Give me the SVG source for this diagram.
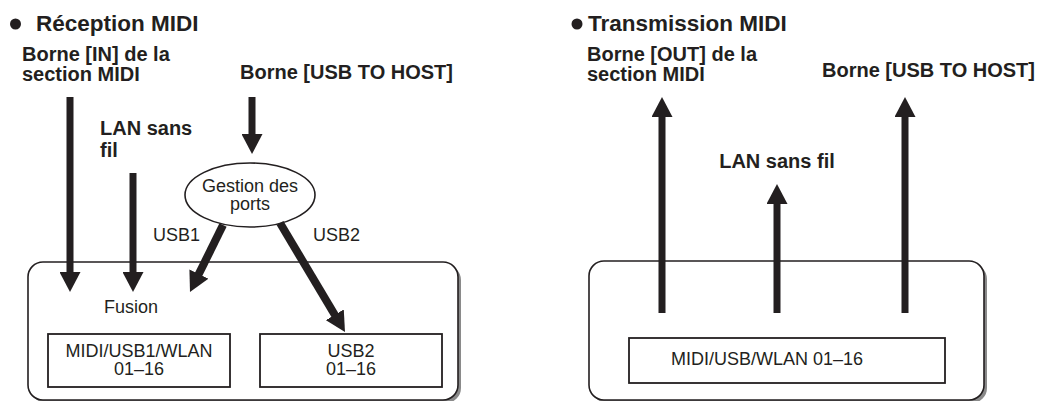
<svg xmlns="http://www.w3.org/2000/svg" width="1060" height="401" viewBox="0 0 1060 401">
  <style>
    .title { font-family: "Liberation Sans", Arial, sans-serif; font-weight: bold; font-size: 22.5px; fill: #231f20; }
    .lbl { font-family: "Liberation Sans", Arial, sans-serif; font-weight: bold; font-size: 20px; fill: #231f20; }
    .txt { font-family: "Liberation Sans", Arial, sans-serif; font-size: 18px; fill: #231f20; }
    .frame { fill: #ffffff; stroke: #231f20; stroke-width: 1.6; }
    .shadow { fill: #8a8a8a; stroke: none; }
    .box { fill: #ffffff; stroke: #231f20; stroke-width: 1.8; }
    .arrow { stroke: #231f20; stroke-width: 7; fill: none; marker-end: url(#head); }
    .arrow.diag { stroke-width: 8; }
  </style>
  <defs>
    <marker id="head" viewBox="0 0 20 21" markerWidth="20" markerHeight="21" refX="2" refY="10.5" markerUnits="userSpaceOnUse" orient="auto">
      <path d="M0,0 L20,10.5 L0,21 z" fill="#231f20"/>
    </marker>
  </defs>

  <!-- Left: Réception MIDI -->
  <g id="title-reception">
    <circle cx="15.5" cy="24" r="5.5" fill="#231f20"/>
    <text class="title" x="36" y="31">Réception MIDI</text>
  </g>
  <g id="src-midi-in">
    <text class="lbl" x="22" y="61">Borne [IN] de la</text>
    <text class="lbl" x="22" y="81">section MIDI</text>
  </g>
  <g id="src-usb-in">
    <text class="lbl" x="240" y="79">Borne [USB TO HOST]</text>
  </g>
  <g id="src-wlan-in">
    <text class="lbl" x="100" y="135">LAN sans</text>
    <text class="lbl" x="100" y="157">fil</text>
  </g>
  <g id="frame-reception">
    <rect class="shadow" x="31" y="265" width="430" height="138" rx="15"/>
    <rect class="frame" x="28" y="262" width="430" height="138" rx="15"/>
  </g>
  <g id="port-manager">
    <ellipse cx="250" cy="195" rx="65" ry="32" fill="#ffffff" stroke="#231f20" stroke-width="1.6"/>
    <text class="txt" x="250" y="192" text-anchor="middle">Gestion des</text>
    <text class="txt" x="250" y="210" text-anchor="middle">ports</text>
  </g>
  <g id="fusion">
    <text class="txt" x="104" y="313">Fusion</text>
  </g>
  <g id="part-midi-usb1-wlan">
    <rect class="box" x="48" y="334" width="182" height="53"/>
    <text class="txt" x="139" y="357" text-anchor="middle">MIDI/USB1/WLAN</text>
    <text class="txt" x="139" y="375" text-anchor="middle">01–16</text>
  </g>
  <g id="part-usb2">
    <rect class="box" x="260" y="334" width="182" height="53"/>
    <text class="txt" x="351" y="357" text-anchor="middle">USB2</text>
    <text class="txt" x="351" y="375" text-anchor="middle">01–16</text>
  </g>

  <!-- Right: Transmission MIDI -->
  <g id="title-transmission">
    <circle cx="577" cy="24" r="5.5" fill="#231f20"/>
    <text class="title" x="588" y="31">Transmission MIDI</text>
  </g>
  <g id="dst-midi-out">
    <text class="lbl" x="587" y="61">Borne [OUT] de la</text>
    <text class="lbl" x="587" y="81">section MIDI</text>
  </g>
  <g id="dst-usb-out">
    <text class="lbl" x="822" y="77">Borne [USB TO HOST]</text>
  </g>
  <g id="dst-wlan-out">
    <text class="lbl" x="777" y="168" text-anchor="middle">LAN sans fil</text>
  </g>
  <g id="frame-transmission">
    <rect class="shadow" x="592" y="264" width="395" height="139" rx="15"/>
    <rect class="frame" x="589" y="261" width="395" height="139" rx="15"/>
  </g>
  <g id="part-tx">
    <rect class="box" x="629" y="338" width="316" height="45"/>
    <text class="txt" x="671" y="365">MIDI/USB/WLAN 01–16</text>
  </g>

  <!-- Connectors -->
  <g id="connectors">
    <line class="arrow" x1="70" y1="97" x2="70" y2="274"/>
    <line class="arrow" x1="133" y1="173" x2="133" y2="274"/>
    <line class="arrow" x1="252" y1="97" x2="252" y2="136"/>
    <line class="arrow diag" x1="223" y1="225" x2="197.95" y2="275.85"/>
    <line class="arrow diag" x1="280" y1="223" x2="335.78" y2="316.54"/>
    <text class="txt" x="153" y="241">USB1</text>
    <text class="txt" x="313" y="241">USB2</text>
    <line class="arrow" x1="662" y1="313" x2="662" y2="115"/>
    <line class="arrow" x1="777" y1="313" x2="777" y2="202"/>
    <line class="arrow" x1="905" y1="313" x2="905" y2="115"/>
  </g>
</svg>
